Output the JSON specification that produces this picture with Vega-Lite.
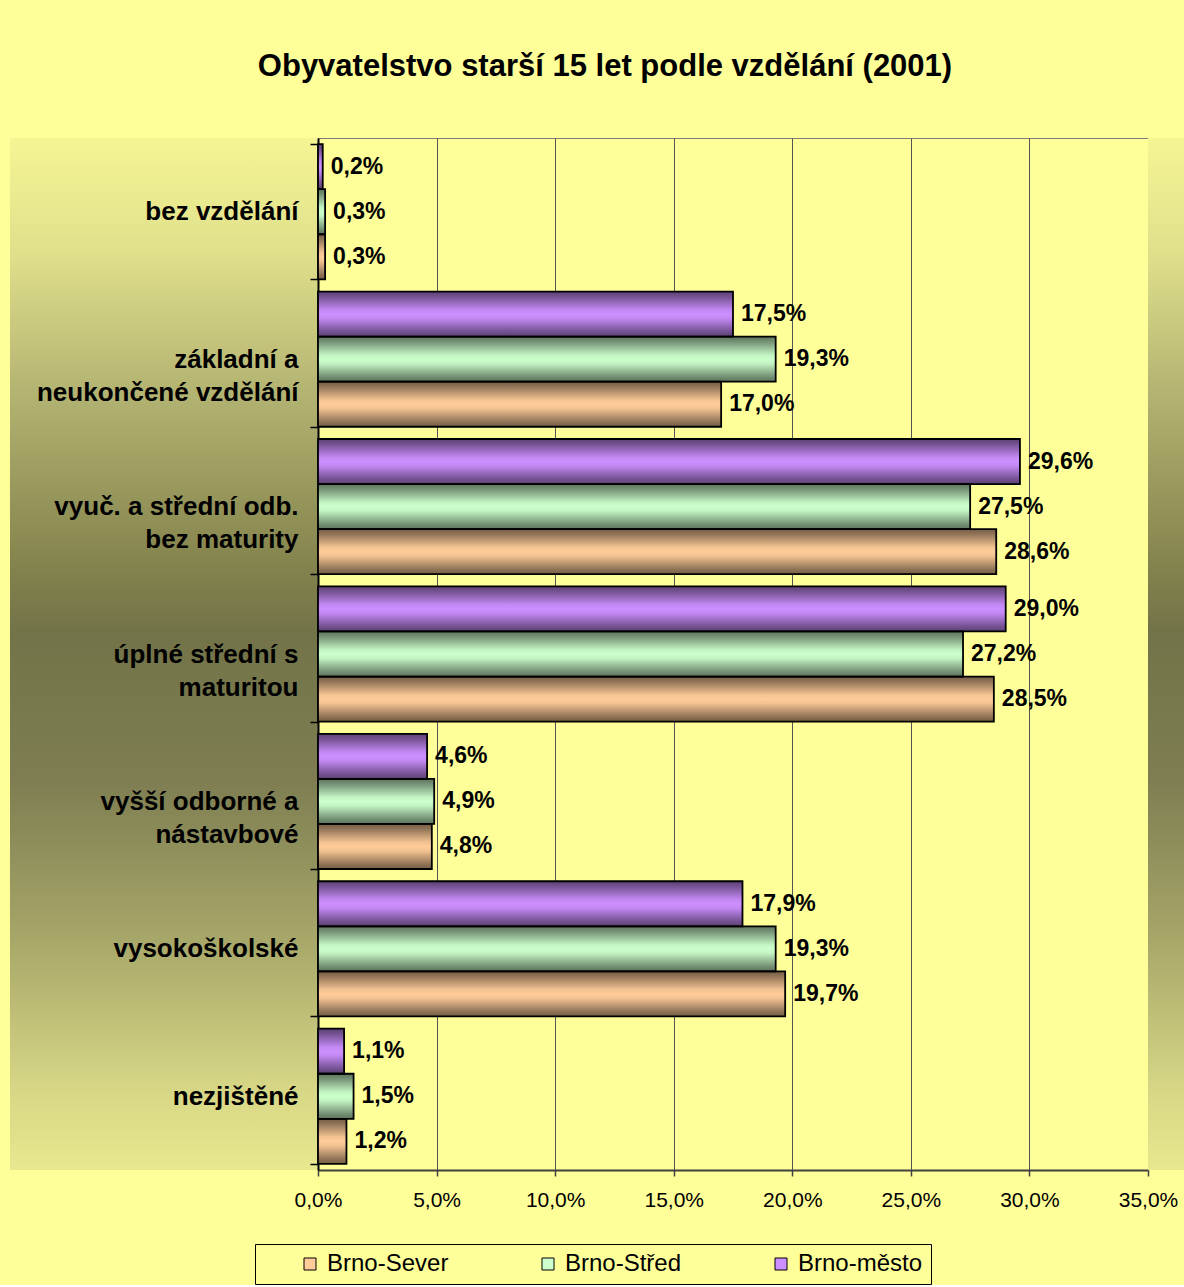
{
  "$schema": "https://vega.github.io/schema/vega-lite/v6.json",
  "background": "#FFFF99",
  "padding": {"left": 10, "top": 50, "right": 0, "bottom": 0},
  "title": {
    "text": "Obyvatelstvo starší 15 let podle vzdělání (2001)",
    "anchor": "middle",
    "font": "Liberation Sans",
    "fontSize": 31,
    "fontWeight": "bold",
    "color": "#000000",
    "offset": 42,
    "dx": 8
  },
  "bounds": "flush",
  "spacing": 0,
  "datasets": {
    "panel": [{"p": 1}],
    "edu": [
      {"kategorie": "bez vzdělání", "obvod": "Brno-město", "podil": 0.002},
      {"kategorie": "bez vzdělání", "obvod": "Brno-Střed", "podil": 0.003},
      {"kategorie": "bez vzdělání", "obvod": "Brno-Sever", "podil": 0.003},
      {"kategorie": "základní a\nneukončené vzdělání", "obvod": "Brno-město", "podil": 0.175},
      {"kategorie": "základní a\nneukončené vzdělání", "obvod": "Brno-Střed", "podil": 0.193},
      {"kategorie": "základní a\nneukončené vzdělání", "obvod": "Brno-Sever", "podil": 0.170},
      {"kategorie": "vyuč. a střední odb.\nbez maturity", "obvod": "Brno-město", "podil": 0.296},
      {"kategorie": "vyuč. a střední odb.\nbez maturity", "obvod": "Brno-Střed", "podil": 0.275},
      {"kategorie": "vyuč. a střední odb.\nbez maturity", "obvod": "Brno-Sever", "podil": 0.286},
      {"kategorie": "úplné střední s\nmaturitou", "obvod": "Brno-město", "podil": 0.290},
      {"kategorie": "úplné střední s\nmaturitou", "obvod": "Brno-Střed", "podil": 0.272},
      {"kategorie": "úplné střední s\nmaturitou", "obvod": "Brno-Sever", "podil": 0.285},
      {"kategorie": "vyšší odborné a\nnástavbové", "obvod": "Brno-město", "podil": 0.046},
      {"kategorie": "vyšší odborné a\nnástavbové", "obvod": "Brno-Střed", "podil": 0.049},
      {"kategorie": "vyšší odborné a\nnástavbové", "obvod": "Brno-Sever", "podil": 0.048},
      {"kategorie": "vysokoškolské", "obvod": "Brno-město", "podil": 0.179},
      {"kategorie": "vysokoškolské", "obvod": "Brno-Střed", "podil": 0.193},
      {"kategorie": "vysokoškolské", "obvod": "Brno-Sever", "podil": 0.197},
      {"kategorie": "nezjištěné", "obvod": "Brno-město", "podil": 0.011},
      {"kategorie": "nezjištěné", "obvod": "Brno-Střed", "podil": 0.015},
      {"kategorie": "nezjištěné", "obvod": "Brno-Sever", "podil": 0.012}
    ]
  },
  "hconcat": [
    {
      "width": 308,
      "height": 1032,
      "view": {"stroke": null},
      "data": {"name": "panel"},
      "mark": {
        "type": "rect",
        "fill": {
          "gradient": "linear", "x1": 0, "y1": 0, "x2": 0, "y2": 1,
          "stops": [
            {"offset": 0, "color": "#F5F594"},
            {"offset": 0.11, "color": "#E0E08C"},
            {"offset": 0.257, "color": "#B0B070"},
            {"offset": 0.404, "color": "#86864F"},
            {"offset": 0.477, "color": "#737349"},
            {"offset": 0.624, "color": "#7E7E52"},
            {"offset": 0.77, "color": "#A5A568"},
            {"offset": 0.917, "color": "#D5D585"},
            {"offset": 1, "color": "#E8E88F"}
          ]
        }
      },
      "encoding": {}
    },
    {
      "width": 830,
      "height": 1032,
      "data": {"name": "edu"},
      "view": {"fill": "#FFFF99", "stroke": "#7F7F7F", "strokeWidth": 1},
      "encoding": {
        "y": {
          "field": "kategorie",
          "type": "nominal",
          "sort": [
            "bez vzdělání",
            "základní a\nneukončené vzdělání",
            "vyuč. a střední odb.\nbez maturity",
            "úplné střední s\nmaturitou",
            "vyšší odborné a\nnástavbové",
            "vysokoškolské",
            "nezjištěné"
          ],
          "scale": {"paddingInner": 0.083, "paddingOuter": 0.0415},
          "axis": {
            "title": null,
            "labelExpr": "split(datum.label, '\\n')",
            "labelFont": "Liberation Sans",
            "labelFontSize": 26,
            "labelFontWeight": "bold",
            "labelColor": "#000000",
            "labelLineHeight": 33,
            "labelLimit": 400,
            "labelPadding": 12,
            "tickSize": 8,
            "tickColor": "#000000",
            "tickWidth": 1.5,
            "tickBand": "extent",
            "domainColor": "#000000",
            "domainWidth": 2,
            "grid": false
          }
        },
        "yOffset": {
          "field": "obvod",
          "type": "nominal",
          "sort": ["Brno-město", "Brno-Střed", "Brno-Sever"],
          "scale": {"paddingInner": 0, "paddingOuter": 0}
        },
        "x": {
          "field": "podil",
          "type": "quantitative",
          "scale": {"domain": [0, 0.35], "nice": false},
          "axis": {
            "title": null,
            "format": ".1%",
            "values": [0, 0.05, 0.1, 0.15, 0.2, 0.25, 0.3, 0.35],
            "labelFont": "Liberation Sans",
            "labelFontSize": 21,
            "labelColor": "#000000",
            "labelPadding": 13,
            "labelFlush": false,
            "labelOverlap": false,
            "tickSize": 6,
            "tickColor": "#404040",
            "tickWidth": 1.5,
            "domainColor": "#404040",
            "domainWidth": 2,
            "grid": true,
            "gridColor": "#555555",
            "gridWidth": 1,
            "gridOpacity": 1
          }
        }
      },
      "layer": [
        {
          "mark": {"type": "bar"},
          "encoding": {
            "color": {
              "field": "obvod",
              "type": "nominal",
              "scale": {
                "domain": ["Brno-Sever", "Brno-Střed", "Brno-město"],
                "range": ["#FFCC99", "#CCFFCC", "#CC8FFF"]
              },
              "legend": {
                "title": null,
                "orient": "none",
                "legendX": 245,
                "legendY": 1106,
                "direction": "horizontal",
                "fillColor": "#FFFF99",
                "strokeColor": "#000000",
                "padding": 8,
                "labelFont": "Liberation Sans",
                "labelFontSize": 24,
                "labelColor": "#000000",
                "labelOffset": 5,
                "symbolType": "square",
                "symbolSize": 144,
                "symbolStrokeColor": "#000000",
                "symbolStrokeWidth": 1,
                "symbolOpacity": 1,
                "symbolOffset": 35,
                "columnPadding": 52
              }
            }
          }
        },
        {
          "mark": {
            "type": "bar",
            "stroke": "#000000",
            "strokeWidth": 1.8,
            "fill": {
              "gradient": "linear", "x1": 0, "y1": 0, "x2": 0, "y2": 1,
              "stops": [
                {"offset": 0, "color": "rgba(0,0,0,0.55)"},
                {"offset": 0.12, "color": "rgba(0,0,0,0.42)"},
                {"offset": 0.25, "color": "rgba(0,0,0,0.25)"},
                {"offset": 0.4, "color": "rgba(0,0,0,0.05)"},
                {"offset": 0.5, "color": "rgba(0,0,0,0)"},
                {"offset": 0.6, "color": "rgba(0,0,0,0.05)"},
                {"offset": 0.75, "color": "rgba(0,0,0,0.25)"},
                {"offset": 0.88, "color": "rgba(0,0,0,0.42)"},
                {"offset": 1, "color": "rgba(0,0,0,0.55)"}
              ]
            }
          }
        },
        {
          "mark": {
            "type": "text",
            "align": "left",
            "baseline": "middle",
            "dx": 8,
            "font": "Liberation Sans",
            "fontSize": 23,
            "fontWeight": "bold",
            "color": "#000000"
          },
          "encoding": {
            "text": {"field": "podil", "type": "quantitative", "format": ".1%"}
          }
        }
      ]
    },
    {
      "width": 36,
      "height": 1032,
      "view": {"stroke": null},
      "data": {"name": "panel"},
      "mark": {
        "type": "rect",
        "fill": {
          "gradient": "linear", "x1": 0, "y1": 0, "x2": 0, "y2": 1,
          "stops": [
            {"offset": 0, "color": "#F5F594"},
            {"offset": 0.11, "color": "#E0E08C"},
            {"offset": 0.257, "color": "#B0B070"},
            {"offset": 0.404, "color": "#86864F"},
            {"offset": 0.477, "color": "#737349"},
            {"offset": 0.624, "color": "#7E7E52"},
            {"offset": 0.77, "color": "#A5A568"},
            {"offset": 0.917, "color": "#D5D585"},
            {"offset": 1, "color": "#E8E88F"}
          ]
        }
      },
      "encoding": {}
    }
  ],
  "config": {
    "font": "Liberation Sans",
    "locale": {
      "number": {
        "decimal": ",",
        "thousands": " ",
        "grouping": [3],
        "currency": ["", " Kč"]
      }
    }
  }
}
